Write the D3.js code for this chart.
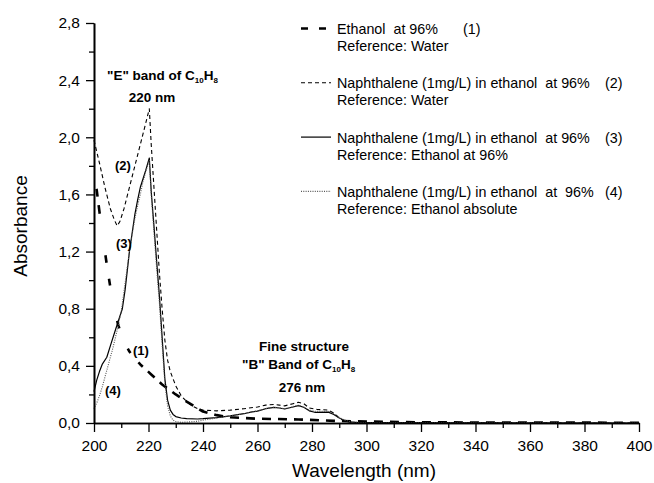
<!DOCTYPE html>
<html><head><meta charset="utf-8">
<script src="https://cdn.jsdelivr.net/npm/d3@7"></script>
<style>
body{margin:0;background:#fff;}
text{font-family:"Liberation Sans",Arial,sans-serif;white-space:pre;}
</style></head>
<body><svg id="c" width="654" height="483"></svg>
<script>
// ---- data ----
const wl1  = [200,201,202,203,204,205,206,207,208,209,210,211,213,215,217,221,225,230,234,240,245,250,260,275,288,300,320,350,400];
const abs1 = [1.72,1.63,1.48,1.33,1.20,1.07,0.95,0.84,0.75,0.68,0.62,0.57,0.50,0.45,0.41,0.34,0.27,0.20,0.15,0.08,0.055,0.04,0.03,0.025,0.015,0.01,0.005,0.003,0.002];

const wl2  = [200,202,204,206,207.5,208.5,209.5,211,213,215,217,219,220.3,221,222,223,224,225,226,227,228,229,230,232,234,236,238,240,245,250,255,260,263,266,268,270,273,275,277,279,282,286,288,290,292,295,300,400];
const abs2 = [1.98,1.82,1.65,1.50,1.42,1.38,1.41,1.50,1.65,1.80,1.95,2.10,2.20,1.95,1.65,1.35,1.05,0.80,0.58,0.44,0.36,0.31,0.26,0.19,0.15,0.12,0.10,0.09,0.085,0.09,0.10,0.112,0.125,0.13,0.125,0.12,0.135,0.145,0.135,0.105,0.095,0.09,0.07,0.035,0.012,0.004,0.002,0.0];

const wl3  = [200,201,202,203,204.7,206,208,210.4,211.4,212,213,214,215,216,217,218,219,220.3,221,222,223,224,225,226,227,228,229,230,232,234,238,240,245,250,255,258,260,263,266,268,270,273,275,277,279,281,286,288,290,292,294,297,300,400];
const abs3 = [0.22,0.30,0.36,0.41,0.46,0.54,0.66,0.80,0.93,1.03,1.20,1.33,1.46,1.56,1.65,1.71,1.77,1.855,1.62,1.38,1.13,0.89,0.60,0.31,0.16,0.09,0.06,0.045,0.035,0.03,0.028,0.03,0.038,0.05,0.065,0.078,0.083,0.10,0.11,0.105,0.098,0.112,0.122,0.11,0.085,0.075,0.076,0.06,0.035,0.018,0.008,0.003,0.002,0.0];

const wl4  = [200,201,202,203,204,205,206,207,208,209,210,211,212,213,214,215,216,217,218,219,220.3,221,222,223,224,225,226,227,228,229,230,232,235,238,240,245,250,255,258,260,263,266,268,270,273,275,277,279,281,286,288,290,292,294,297,300,400];
const abs4 = [0.10,0.14,0.19,0.25,0.32,0.39,0.46,0.53,0.61,0.69,0.78,0.92,1.06,1.20,1.32,1.43,1.52,1.60,1.69,1.76,1.84,1.60,1.34,1.08,0.84,0.55,0.28,0.12,0.05,0.02,0.01,0.005,0.008,0.012,0.02,0.035,0.05,0.065,0.078,0.085,0.10,0.11,0.106,0.10,0.114,0.124,0.112,0.09,0.082,0.082,0.065,0.038,0.02,0.009,0.003,0.002,0.0];

const xTicks = [200,220,240,260,280,300,320,340,360,380,400];
const xMinor = [210,230,250,270,290,310,330,350,370,390];
const yTicks = [0,0.4,0.8,1.2,1.6,2.0,2.4,2.8];
const yTickLabels = ["0,0","0,4","0,8","1,2","1,6","2,0","2,4","2,8"];
const yMinor = [0.2,0.6,1.0,1.4,1.8,2.2,2.6];

const legendMain = ["Ethanol  at 96%","Naphthalene (1mg/L) in ethanol  at 96%","Naphthalene (1mg/L) in ethanol  at 96%","Naphthalene (1mg/L) in ethanol  at  96%"];
const legendRef  = ["Reference: Water","Reference: Water","Reference: Ethanol at 96%","Reference: Ethanol absolute"];
const legendNum  = ["(1)","(2)","(3)","(4)"];

// ---- chart ----
const svg = d3.select("#c");
const x = d3.scaleLinear().domain([200,400]).range([94,639]);
const y = d3.scaleLinear().domain([0,2.8]).range([423,23]);

// dash pattern of curve (1): sparse dashes on its steep start (as drawn in the original), regular afterwards
function dashFor(wl, a){
  const pts = wl.map((v,i)=>[x(v),y(a[i])]);
  function lenAt(xv){
    const px = x(xv); let L = 0;
    for(let i=1;i<pts.length;i++){
      const [x0,y0]=pts[i-1],[x1,y1]=pts[i];
      const seg=Math.hypot(x1-x0,y1-y0);
      if(px<=x1){ return L + seg*(px-x0)/(x1-x0); }
      L+=seg;
    }
    return L;
  }
  const ranges=[[200.9,201.3],[201.7,202.1],[204.2,204.6],[205.5,205.9],[208.5,209.3],[212.4,213.4],[216.3,217.9]];
  const arr=[0]; let pos=0;
  ranges.forEach(r=>{const s=lenAt(r[0]),e=lenAt(r[1]); arr.push(s-pos, e-s); pos=e;});
  arr.push(7);
  for(let k=0;k<120;k++){arr.push(9,7);}
  return arr.join(",");
}

const series = [
  {wl:wl1, a:abs1, dash:dashFor(wl1,abs1), ldash:"7,11", w:2.6, col:"#000"},
  {wl:wl2, a:abs2, dash:"4,3", ldash:"4,3", w:1.1, col:"#000"},
  {wl:wl3, a:abs3, dash:null, ldash:null, w:1.2, col:"#000"},
  {wl:wl4, a:abs4, dash:"1,1.3", ldash:"1,1.3", w:1.1, col:"#555"}
];
const line = d3.line().x(d=>x(d[0])).y(d=>y(d[1]));
series.forEach(s=>{
  svg.append("path").datum(s.wl.map((v,i)=>[v,s.a[i]]))
    .attr("d",line).attr("fill","none").attr("stroke",s.col)
    .attr("stroke-width",s.w).attr("stroke-dasharray",s.dash)
    .attr("stroke-linejoin","round");
});

// axes
svg.append("g").attr("transform","translate(0,423)")
  .call(d3.axisBottom(x).tickValues(xTicks).tickFormat(d3.format("d")).tickSize(9).tickSizeOuter(0).tickPadding(8));
svg.append("g").attr("transform","translate(0,423)")
  .call(d3.axisBottom(x).tickValues(xMinor).tickFormat("").tickSize(5).tickSizeOuter(0));
svg.append("g").attr("transform","translate(94,0)")
  .call(d3.axisLeft(y).tickValues(yTicks).tickFormat((d,i)=>yTickLabels[i]).tickSize(8).tickSizeOuter(0).tickPadding(6));
svg.append("g").attr("transform","translate(94,0)")
  .call(d3.axisLeft(y).tickValues(yMinor).tickFormat("").tickSize(5).tickSizeOuter(0));
svg.selectAll(".domain").attr("stroke","#000").attr("stroke-width",1.6);
svg.selectAll(".tick line").attr("stroke","#000").attr("stroke-width",1.3);
svg.selectAll(".tick text").attr("font-size",15.5).attr("fill","#000");

// axis titles
svg.append("text").attr("x",364).attr("y",477).attr("text-anchor","middle")
  .attr("font-size",19).text("Wavelength (nm)");
svg.append("text").attr("transform","translate(27,226) rotate(-90)").attr("text-anchor","middle")
  .attr("font-size",19).text("Absorbance");

// legend
const lg = svg.append("g");
series.forEach((s,i)=>{
  const ly = 28.5 + i*54.3;
  lg.append("line").attr("x1",301).attr("x2",331).attr("y1",ly).attr("y2",ly)
    .attr("stroke",s.col).attr("stroke-width",s.w).attr("stroke-dasharray",s.ldash);
  lg.append("text").attr("x",337).attr("y",ly+5.5).attr("font-size",14.3).text(legendMain[i]);
  lg.append("text").attr("x",i===0?463:605).attr("y",ly+5.5).attr("font-size",14.3).text(legendNum[i]);
  lg.append("text").attr("x",337).attr("y",ly+22.5).attr("font-size",14.3).text(legendRef[i]);
});

// annotations
function chem(xx, yy, pre){
  const el = svg.append("text").attr("x",xx).attr("y",yy).attr("font-size",13.5).attr("font-weight","bold");
  el.append("tspan").text(pre+"C");
  el.append("tspan").attr("font-size",8).attr("dy",3).text("10");
  el.append("tspan").attr("dy",-3).text("H");
  el.append("tspan").attr("font-size",8).attr("dy",3).text("8");
}
chem(107,80,"\"E\" band of ");
svg.append("text").attr("x",152).attr("y",102).attr("text-anchor","middle").attr("font-size",13.5).attr("font-weight","bold").text("220 nm");
svg.append("text").attr("x",304).attr("y",351).attr("text-anchor","middle").attr("font-size",13.5).attr("font-weight","bold").text("Fine structure");
chem(242,369,"\"B\" Band of ");
svg.append("text").attr("x",302).attr("y",392).attr("text-anchor","middle").attr("font-size",13.5).attr("font-weight","bold").text("276 nm");
const lbl = [["(2)",115,170],["(3)",116,248],["(1)",133,355],["(4)",105,395]];
lbl.forEach(l=>svg.append("text").attr("x",l[1]).attr("y",l[2]).attr("font-size",13).attr("font-weight","bold").text(l[0]));
</script></body></html>
